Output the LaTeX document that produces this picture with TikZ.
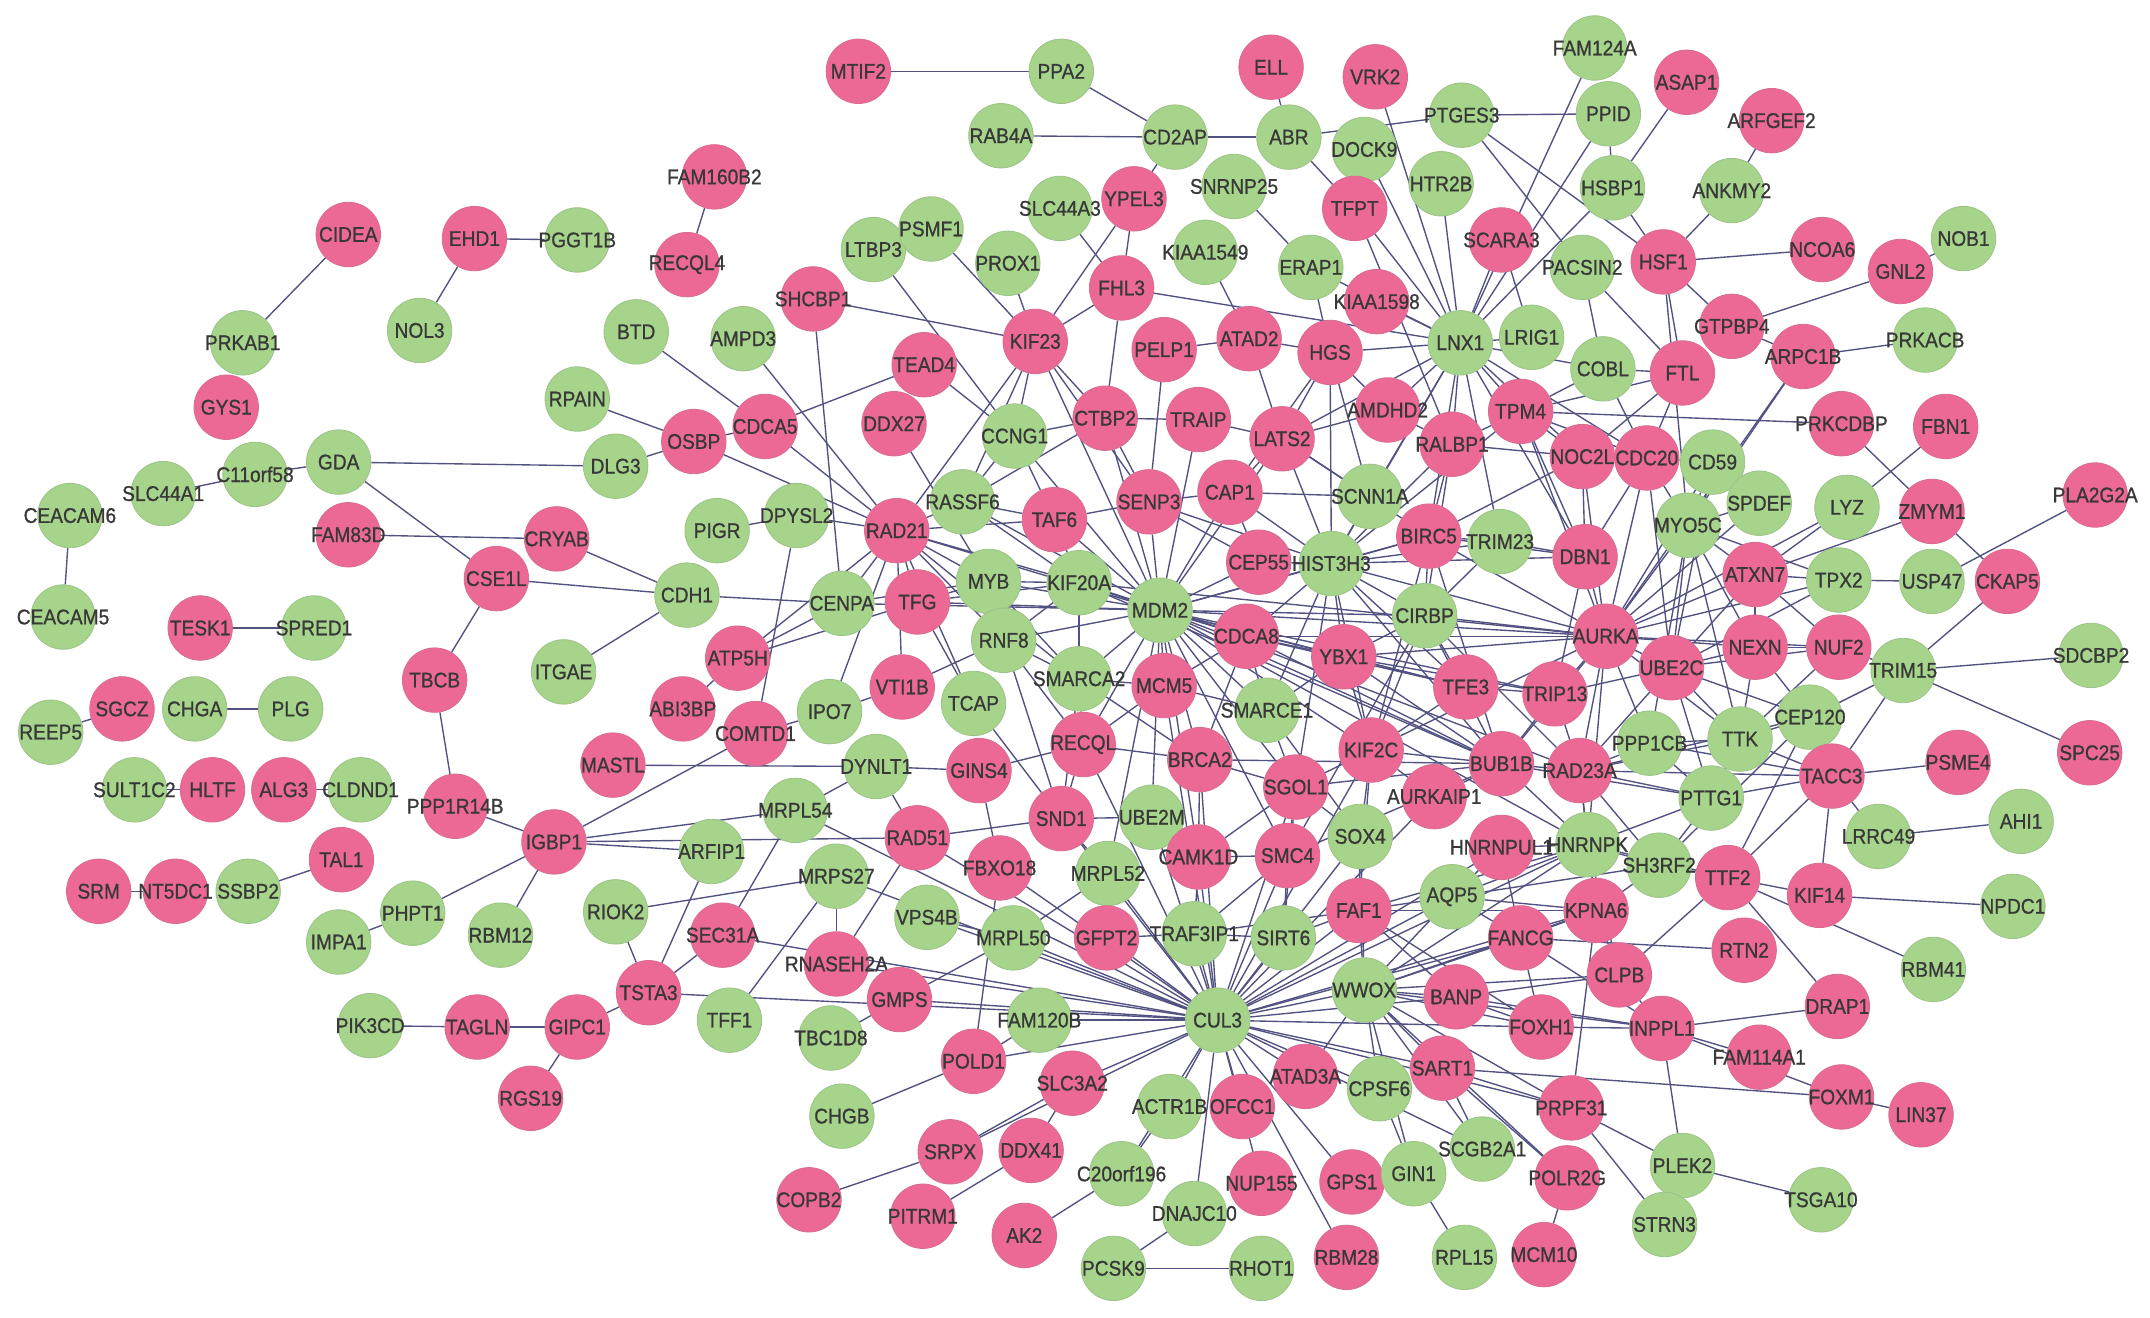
\documentclass[tikz,border=0pt]{standalone}
\usepackage{fontspec}
\setmainfont{Liberation Sans}[FakeStretch=0.9,FakeBold=0.9]
\usetikzlibrary{backgrounds}
\definecolor{pinkc}{RGB}{237,105,149}
\definecolor{greenc}{RGB}{166,212,139}
\definecolor{edgec}{RGB}{82,82,130}
\tikzset{
  gbase/.style={circle, minimum size=47pt, inner sep=0pt, font=\fontsize{15.5}{15.5}\selectfont, text={black!78}, line width=0.6pt},
  pn/.style={gbase, fill=pinkc, draw=pinkc!80!gray},
  gnn/.style={gbase, fill=greenc, draw=greenc!80!gray},
  conn/.style={draw=edgec, line width=1pt},
}
\newcommand\pnd[2]{\node[pn] (#1) at (#2) {\makebox[0pt]{#1}};}
\newcommand\gnd[2]{\node[gnn] (#1) at (#2) {\makebox[0pt]{#1}};}
\begin{document}
\begin{tikzpicture}[x=1pt,y=-1pt]
\useasboundingbox (0,0) rectangle (1568,961);
% ---- nodes ----
\pnd{CIDEA}{254,171}
\pnd{EHD1}{346,174}
\gnd{PGGT1B}{421,175}
\gnd{NOL3}{306,241}
\gnd{PRKAB1}{177,250}
\pnd{GYS1}{165,297}
\pnd{MTIF2}{626,52}
\gnd{PPA2}{774,52}
\gnd{RAB4A}{730,99}
\pnd{FAM160B2}{521,129}
\pnd{RECQL4}{501,193}
\gnd{SLC44A3}{773,152}
\gnd{LTBP3}{637,182}
\gnd{PSMF1}{679,167}
\gnd{PROX1}{735,192}
\pnd{SHCBP1}{593,218}
\gnd{BTD}{464,242}
\gnd{AMPD3}{542,247}
\pnd{KIF23}{755,249}
\pnd{TEAD4}{674,266}
\gnd{RPAIN}{421,291}
\pnd{CDCA5}{558,311}
\pnd{DDX27}{652,309}
\gnd{CCNG1}{740,318}
\pnd{OSBP}{506,322}
\pnd{ELL}{927,49}
\pnd{VRK2}{1003,56}
\gnd{FAM124A}{1163,35}
\gnd{CD2AP}{857,100}
\gnd{ABR}{940,100}
\gnd{PTGES3}{1066,84}
\gnd{PPID}{1173,83}
\gnd{DOCK9}{995,109}
\gnd{SNRNP25}{900,136}
\pnd{TFPT}{988,152}
\gnd{HTR2B}{1051,134}
\gnd{HSBP1}{1176,137}
\pnd{YPEL3}{827,145}
\pnd{SCARA3}{1095,175}
\gnd{KIAA1549}{879,184}
\gnd{ERAP1}{956,195}
\gnd{PACSIN2}{1154,195}
\pnd{FHL3}{818,210}
\pnd{KIAA1598}{1004,220}
\pnd{ATAD2}{911,247}
\pnd{HGS}{970,257}
\pnd{PELP1}{849,255}
\gnd{LNX1}{1065,250}
\gnd{LRIG1}{1117,246}
\gnd{COBL}{1169,269}
\pnd{CTBP2}{806,305}
\pnd{TRAIP}{874,306}
\pnd{AMDHD2}{1012,299}
\pnd{TPM4}{1109,300}
\pnd{LATS2}{935,320}
\pnd{RALBP1}{1059,324}
\pnd{ASAP1}{1230,60}
\pnd{ARFGEF2}{1292,88}
\gnd{ANKMY2}{1263,139}
\pnd{HSF1}{1213,191}
\pnd{NCOA6}{1329,182}
\pnd{GNL2}{1386,198}
\gnd{NOB1}{1432,174}
\pnd{GTPBP4}{1263,238}
\pnd{FTL}{1227,272}
\pnd{ARPC1B}{1315,260}
\gnd{PRKACB}{1404,248}
\pnd{PRKCDBP}{1343,309}
\pnd{FBN1}{1419,311}
\gnd{GDA}{247,337}
\gnd{C11orf58}{186,346}
\gnd{SLC44A1}{119,360}
\gnd{CEACAM6}{51,376}
\gnd{CEACAM5}{46,450}
\pnd{FAM83D}{254,390}
\pnd{CSE1L}{362,422}
\pnd{CRYAB}{406,393}
\pnd{TESK1}{146,458}
\gnd{SPRED1}{229,458}
\pnd{TBCB}{317,496}
\gnd{REEP5}{37,534}
\pnd{SGCZ}{89,517}
\gnd{CHGA}{142,517}
\gnd{PLG}{212,517}
\gnd{SULT1C2}{98,576}
\pnd{HLTF}{155,576}
\pnd{ALG3}{207,576}
\gnd{CLDND1}{263,576}
\pnd{PPP1R14B}{332,588}
\pnd{TAL1}{249,627}
\pnd{SRM}{72,650}
\pnd{NT5DC1}{128,650}
\gnd{SSBP2}{181,650}
\gnd{PHPT1}{301,666}
\gnd{IMPA1}{247,687}
\gnd{RBM12}{365,682}
\gnd{PIK3CD}{270,748}
\pnd{TAGLN}{348,749}
\pnd{RGS19}{387,801}
\gnd{DLG3}{449,340}
\gnd{PIGR}{523,387}
\gnd{DPYSL2}{581,376}
\pnd{RAD21}{654,387}
\gnd{RASSF6}{702,366}
\pnd{TAF6}{769,379}
\gnd{CDH1}{501,434}
\gnd{CENPA}{614,440}
\pnd{TFG}{669,439}
\gnd{MYB}{721,424}
\gnd{KIF20A}{787,425}
\gnd{RNF8}{732,467}
\pnd{ATP5H}{538,480}
\gnd{ITGAE}{411,490}
\pnd{VTI1B}{658,501}
\pnd{ABI3BP}{498,517}
\gnd{IPO7}{605,519}
\gnd{TCAP}{710,513}
\pnd{COMTD1}{551,535}
\pnd{MASTL}{447,558}
\gnd{DYNLT1}{639,559}
\pnd{GINS4}{714,562}
\pnd{SND1}{774,597}
\gnd{MRPL54}{580,591}
\pnd{IGBP1}{404,614}
\gnd{ARFIP1}{519,621}
\pnd{RAD51}{669,611}
\pnd{FBXO18}{729,633}
\gnd{MRPS27}{610,639}
\pnd{RECQL}{790,543}
\gnd{SMARCA2}{787,495}
\pnd{NOC2L}{1154,333}
\pnd{SENP3}{838,366}
\pnd{CAP1}{897,359}
\gnd{SCNN1A}{999,362}
\pnd{BIRC5}{1042,391}
\gnd{TRIM23}{1094,395}
\pnd{DBN1}{1156,406}
\pnd{CEP55}{918,410}
\gnd{HIST3H3}{971,411}
\gnd{MDM2}{846,445}
\gnd{CIRBP}{1039,449}
\pnd{AURKA}{1171,464}
\pnd{CDCA8}{909,464}
\pnd{YBX1}{980,479}
\pnd{MCM5}{849,500}
\pnd{TFE3}{1069,501}
\pnd{TRIP13}{1134,506}
\gnd{SMARCE1}{924,518}
\pnd{KIF2C}{1000,547}
\pnd{BRCA2}{875,554}
\pnd{BUB1B}{1095,557}
\pnd{RAD23A}{1152,562}
\pnd{SGOL1}{945,574}
\pnd{AURKAIP1}{1046,581}
\gnd{UBE2M}{840,596}
\gnd{SOX4}{992,610}
\pnd{HNRNPUL1}{1095,618}
\gnd{HNRNPK}{1158,616}
\pnd{CAMK1D}{874,625}
\pnd{SMC4}{939,624}
\gnd{MRPL52}{808,637}
\pnd{CDC20}{1201,334}
\gnd{CD59}{1249,337}
\gnd{SPDEF}{1283,367}
\gnd{MYO5C}{1231,383}
\gnd{LYZ}{1347,370}
\pnd{ZMYM1}{1409,373}
\pnd{PLA2G2A}{1528,361}
\pnd{ATXN7}{1280,419}
\gnd{TPX2}{1341,423}
\gnd{USP47}{1409,424}
\pnd{CKAP5}{1464,424}
\pnd{NEXN}{1280,472}
\pnd{NUF2}{1341,472}
\pnd{UBE2C}{1219,487}
\gnd{TRIM15}{1388,489}
\gnd{SDCBP2}{1525,478}
\gnd{CEP120}{1320,523}
\gnd{TTK}{1269,539}
\gnd{PPP1CB}{1203,542}
\pnd{SPC25}{1524,549}
\pnd{PSME4}{1428,556}
\pnd{TACC3}{1336,566}
\gnd{PTTG1}{1248,582}
\gnd{AHI1}{1474,599}
\gnd{LRRC49}{1370,610}
\gnd{SH3RF2}{1210,631}
\pnd{TTF2}{1260,640}
\pnd{KIF14}{1327,653}
\gnd{NPDC1}{1468,661}
\pnd{RTN2}{1272,693}
\gnd{RBM41}{1410,707}
\pnd{CLPB}{1181,711}
\pnd{DRAP1}{1340,734}
\pnd{INPPL1}{1212,750}
\pnd{FAM114A1}{1283,771}
\pnd{FOXM1}{1343,800}
\pnd{LIN37}{1401,813}
\gnd{PLEK2}{1227,850}
\gnd{TSGA10}{1328,875}
\gnd{STRN3}{1214,893}
\gnd{RIOK2}{449,665}
\pnd{SEC31A}{527,682}
\gnd{VPS4B}{676,669}
\gnd{MRPL50}{739,684}
\pnd{RNASEH2A}{610,703}
\pnd{TSTA3}{473,724}
\pnd{GMPS}{656,729}
\gnd{TFF1}{532,744}
\pnd{GIPC1}{421,749}
\gnd{TBC1D8}{606,757}
\gnd{FAM120B}{758,744}
\pnd{POLD1}{710,774}
\pnd{SLC3A2}{782,790}
\gnd{CHGB}{614,814}
\pnd{SRPX}{693,840}
\pnd{DDX41}{752,839}
\pnd{COPB2}{590,875}
\pnd{PITRM1}{673,887}
\pnd{AK2}{747,901}
\pnd{FAF1}{991,664}
\gnd{AQP5}{1059,654}
\pnd{KPNA6}{1164,664}
\pnd{GFPT2}{807,684}
\gnd{TRAF3IP1}{871,681}
\gnd{SIRT6}{936,684}
\pnd{FANCG}{1109,684}
\gnd{WWOX}{995,722}
\pnd{BANP}{1062,727}
\gnd{CUL3}{888,744}
\pnd{FOXH1}{1124,749}
\pnd{ATAD3A}{952,785}
\pnd{SART1}{1052,779}
\gnd{CPSF6}{1006,794}
\gnd{ACTR1B}{853,807}
\pnd{OFCC1}{906,807}
\pnd{PRPF31}{1146,808}
\gnd{SCGB2A1}{1081,838}
\gnd{C20orf196}{818,856}
\pnd{NUP155}{920,863}
\pnd{GPS1}{986,862}
\gnd{GIN1}{1031,856}
\pnd{POLR2G}{1143,859}
\gnd{DNAJC10}{871,885}
\pnd{RBM28}{982,917}
\gnd{RPL15}{1068,917}
\pnd{MCM10}{1126,915}
\gnd{PCSK9}{812,925}
\gnd{RHOT1}{920,925}
% ---- connectors ----
\begin{pgfonlayer}{background}
\fill[white] (0,0) rectangle (1568,961);
\foreach \a/\b in {CIDEA/PRKAB1, EHD1/PGGT1B, EHD1/NOL3, FAM160B2/RECQL4, MTIF2/PPA2, PPA2/CD2AP, RAB4A/CD2AP, CD2AP/ABR, CD2AP/YPEL3, ELL/ABR, ABR/PTGES3, ABR/TFPT, PTGES3/PPID, PPID/HSBP1, ASAP1/HSBP1, ARFGEF2/ANKMY2, ANKMY2/HSF1, HSBP1/HSF1, HSF1/NCOA6, HSF1/GTPBP4, GNL2/NOB1, GNL2/GTPBP4, GTPBP4/ARPC1B, ARPC1B/PRKACB, PRKCDBP/ZMYM1, TPM4/PRKCDBP, FBN1/LYZ, ZMYM1/CKAP5, ZMYM1/ATXN7, PLA2G2A/USP47, TPX2/USP47, CKAP5/TRIM15, NUF2/TRIM15, TRIM15/SDCBP2, TRIM15/SPC25, TRIM15/CEP120, TRIM15/TACC3, TACC3/PSME4, TACC3/LRRC49, LRRC49/AHI1, TACC3/KIF14, TACC3/TTF2, TTF2/KIF14, KIF14/NPDC1, TTF2/RBM41, TTF2/DRAP1, TTF2/CLPB, FANCG/RTN2, INPPL1/DRAP1, INPPL1/FAM114A1, INPPL1/FOXM1, SART1/FOXM1, FOXM1/LIN37, INPPL1/PLEK2, PLEK2/TSGA10, PRPF31/PLEK2, PRPF31/STRN3, FOXH1/INPPL1, CLPB/INPPL1, KPNA6/PRPF31, SART1/PRPF31, SART1/POLR2G, POLR2G/MCM10, SART1/SCGB2A1, CPSF6/GIN1, GIN1/RPL15, DNAJC10/PCSK9, PCSK9/RHOT1, ACTR1B/C20orf196, C20orf196/AK2, DDX41/SLC3A2, DDX41/PITRM1, SRPX/SLC3A2, SRPX/COPB2, POLD1/CHGB, POLD1/FBXO18, POLD1/FAM120B, GMPS/TBC1D8, GMPS/MRPL50, TSTA3/CUL3, TSTA3/SEC31A, TSTA3/RIOK2, TSTA3/GIPC1, TSTA3/ARFIP1, RIOK2/MRPS27, GIPC1/TAGLN, TAGLN/PIK3CD, GIPC1/RGS19, IGBP1/PHPT1, PHPT1/IMPA1, IGBP1/RBM12, PPP1R14B/IGBP1, TBCB/PPP1R14B, CSE1L/TBCB, GDA/CSE1L, GDA/C11orf58, C11orf58/SLC44A1, CEACAM6/CEACAM5, TESK1/SPRED1, SGCZ/REEP5, CHGA/PLG, SULT1C2/HLTF, ALG3/CLDND1, SRM/NT5DC1, SSBP2/TAL1, GDA/DLG3, DLG3/OSBP, FAM83D/CRYAB, CRYAB/CDH1, CSE1L/CDH1, CDH1/ITGAE, CDH1/CENPA, RPAIN/OSBP, OSBP/CDCA5, BTD/CDCA5, CDCA5/TEAD4, AMPD3/RAD21, SHCBP1/KIF23, SHCBP1/CENPA, LTBP3/CCNG1, TEAD4/CCNG1, PSMF1/KIF23, PROX1/KIF23, SLC44A3/FHL3, KIF23/YPEL3, KIF23/FHL3, YPEL3/FHL3, FHL3/CTBP2, SNRNP25/ERAP1, KIAA1549/ATAD2, ERAP1/HGS, ERAP1/LNX1, PELP1/ATAD2, ATAD2/HGS, HGS/LNX1, FHL3/LNX1, VRK2/LNX1, DOCK9/LNX1, HTR2B/LNX1, TFPT/LNX1, TFPT/RALBP1, KIAA1598/LNX1, SCARA3/LNX1, FAM124A/LNX1, PPID/LNX1, HSBP1/LNX1, PTGES3/HSF1, PTGES3/PACSIN2, PACSIN2/COBL, LRIG1/LNX1, LNX1/COBL, SCARA3/LRIG1, PACSIN2/FTL, HSF1/FTL, HSF1/MYO5C, ARPC1B/MYO5C, ARPC1B/AURKA, LYZ/ATXN7, LYZ/AURKA, TPX2/AURKA, NEXN/NUF2, CEP120/TTF2, TTK/CEP120, TTK/TACC3, PTTG1/TACC3, PPP1CB/TACC3, PTTG1/SH3RF2, DPYSL2/RAD21, DPYSL2/PIGR, DPYSL2/COMTD1, MASTL/DYNLT1, DYNLT1/GINS4, DYNLT1/MRPL54, IGBP1/MRPL54, IGBP1/RAD51, IGBP1/ARFIP1, IGBP1/COMTD1, ABI3BP/ATP5H, CENPA/ATP5H, ATP5H/TFG, COMTD1/IPO7, IPO7/VTI1B, TCAP/SND1, TCAP/TFG, VTI1B/RNF8, GINS4/RECQL, GINS4/FBXO18, RAD51/SND1, RAD51/DYNLT1, SND1/RNF8, MRPL50/VPS4B, MRPL50/MRPL52, FBXO18/CUL3, MRPL50/CUL3, RNASEH2A/CUL3, SEC31A/CUL3, SEC31A/MRPL54, TFF1/MRPS27, RNASEH2A/MRPS27, RNASEH2A/RAD51, GMPS/CUL3, FAM120B/CUL3}
  \draw[conn] (\a) -- (\b);
\foreach \a/\b in {RAD21/MYB, RAD21/KIF20A, RAD21/RNF8, RAD21/TFG, RAD21/MDM2, RAD21/SMARCA2, RAD21/RASSF6, RAD21/CENPA, RAD21/IPO7, RAD21/CDCA5, RAD21/OSBP, RAD21/KIF23, RAD21/TAF6, RAD21/TCAP, RAD21/VTI1B, RAD21/ATP5H, KIF23/CTBP2, KIF23/CCNG1, KIF23/RASSF6, KIF23/MDM2, KIF23/SENP3, CCNG1/TAF6, CCNG1/RASSF6, CCNG1/MDM2, CCNG1/CTBP2, TAF6/MDM2, RASSF6/TAF6, TAF6/KIF20A, RASSF6/KIF20A, RASSF6/MDM2, KIF20A/MDM2, KIF20A/MYB, KIF20A/RNF8, KIF20A/SMARCA2, KIF20A/TFG, KIF20A/AURKA, KIF20A/BUB1B, KIF20A/CDCA8, MYB/MDM2, MYB/RNF8, MYB/SMARCA2, MYB/TFG, MYB/CENPA, DDX27/MYB, MDM2/SENP3, MDM2/CAP1, MDM2/CEP55, MDM2/HIST3H3, MDM2/CDCA8, MDM2/YBX1, MDM2/MCM5, MDM2/SMARCA2, MDM2/RNF8, MDM2/SMARCE1, MDM2/BRCA2, MDM2/SGOL1, MDM2/KIF2C, MDM2/TFE3, MDM2/BUB1B, MDM2/AURKA, MDM2/CIRBP, MDM2/TRIP13, MDM2/UBE2M, MDM2/RECQL, MDM2/MRPL52, MDM2/CAMK1D, MDM2/SMC4, MDM2/TFG, MDM2/CENPA, MDM2/CTBP2, MDM2/LATS2, MDM2/TRAIP, MDM2/BIRC5, MDM2/RAD23A, MDM2/HNRNPK, HIST3H3/CEP55, HIST3H3/CAP1, HIST3H3/SENP3, HIST3H3/SCNN1A, HIST3H3/BIRC5, HIST3H3/CIRBP, HIST3H3/YBX1, HIST3H3/CDCA8, HIST3H3/AURKA, HIST3H3/TRIM23, HIST3H3/LATS2, HIST3H3/HGS, HIST3H3/LNX1, HIST3H3/DBN1, HIST3H3/KIF2C, HIST3H3/BUB1B, HIST3H3/SMARCE1, HIST3H3/TFE3, HIST3H3/SGOL1, HIST3H3/RALBP1, HIST3H3/TPM4, CIRBP/YBX1, CIRBP/AURKA, CIRBP/BIRC5, CIRBP/TRIM23, CIRBP/TFE3, CIRBP/BUB1B, CIRBP/RAD23A, CIRBP/KIF2C, CIRBP/SMC4, CIRBP/RALBP1, BUB1B/RAD23A, BUB1B/KIF2C, BUB1B/TRIP13, BUB1B/AURKAIP1, BUB1B/PTTG1, BUB1B/HNRNPK, BUB1B/SGOL1, BUB1B/BRCA2, BUB1B/SMC4, BUB1B/CDCA8, BUB1B/YBX1, BUB1B/AURKA, RAD23A/PTTG1, RAD23A/PPP1CB, RAD23A/HNRNPK, RAD23A/TTK, RAD23A/CEP120, RAD23A/TACC3, RAD23A/TRIP13, RAD23A/UBE2C, RAD23A/SH3RF2, RAD23A/KPNA6, RAD23A/AURKA, KIF2C/YBX1, KIF2C/SGOL1, KIF2C/AURKAIP1, KIF2C/TFE3, KIF2C/SOX4, KIF2C/FAF1, KIF2C/AURKA, SGOL1/SMC4, SGOL1/BRCA2, SGOL1/CAMK1D, SGOL1/SMARCE1, SGOL1/SOX4, CDCA8/YBX1, CDCA8/SMARCE1, CDCA8/TFE3, CDCA8/MCM5, CDCA8/BRCA2, CDCA8/AURKA, YBX1/SMARCE1, YBX1/TRIP13, YBX1/TFE3, YBX1/AURKA, TRIP13/AURKA, TRIP13/TFE3, TRIP13/UBE2C, UBE2C/AURKA, UBE2C/NEXN, UBE2C/NUF2, UBE2C/TTK, UBE2C/PTTG1, UBE2C/CEP120, UBE2C/ATXN7, UBE2C/TPX2}
  \draw[conn] (\a) -- (\b);
\foreach \a/\b in {CUL3/TRAF3IP1, CUL3/SIRT6, CUL3/FAF1, CUL3/AQP5, CUL3/WWOX, CUL3/BANP, CUL3/SART1, CUL3/PRPF31, CUL3/ATAD3A, CUL3/CPSF6, CUL3/OFCC1, CUL3/ACTR1B, CUL3/C20orf196, CUL3/DNAJC10, CUL3/NUP155, CUL3/GPS1, CUL3/RBM28, CUL3/SLC3A2, CUL3/POLD1, CUL3/GFPT2, CUL3/MRPL52, CUL3/UBE2M, CUL3/CAMK1D, CUL3/SMC4, CUL3/SGOL1, CUL3/BRCA2, CUL3/RECQL, CUL3/SND1, CUL3/RAD51, CUL3/VPS4B, CUL3/MRPS27, CUL3/MRPL54, CUL3/HNRNPK, CUL3/HNRNPUL1, CUL3/SOX4, CUL3/KPNA6, CUL3/FANCG, CUL3/FOXH1, CUL3/SCGB2A1, CUL3/MCM5, CUL3/KIF2C, CUL3/AURKAIP1, CUL3/SRPX, WWOX/BANP, WWOX/FOXH1, WWOX/PRPF31, WWOX/SART1, WWOX/CPSF6, WWOX/ATAD3A, WWOX/GIN1, WWOX/POLR2G, WWOX/FAF1, WWOX/AQP5, WWOX/SOX4, WWOX/KPNA6, WWOX/HNRNPK, WWOX/CLPB, WWOX/INPPL1, WWOX/FANCG, WWOX/SCGB2A1, FAF1/AQP5, FAF1/FOXH1, FAF1/BANP, FAF1/KPNA6, FAF1/HNRNPK, FAF1/SIRT6, FAF1/SOX4, FAF1/TRAF3IP1, AQP5/HNRNPK, AQP5/KPNA6, AQP5/FANCG, AQP5/SH3RF2, AQP5/HNRNPUL1, SIRT6/TRAF3IP1, SIRT6/SMC4, SIRT6/SGOL1, TRAF3IP1/GFPT2, TRAF3IP1/SMC4, TRAF3IP1/CAMK1D, CAMK1D/SMC4, CAMK1D/UBE2M, CAMK1D/BRCA2, SND1/RECQL, SND1/UBE2M, SND1/MRPL52, SND1/SMARCA2, RECQL/SMARCA2, RECQL/MCM5, RECQL/BRCA2, RECQL/RNF8, SMARCA2/MCM5, SMARCA2/RNF8, SMARCA2/BRCA2, SMARCE1/MCM5, SMARCE1/SOX4, HNRNPK/HNRNPUL1, HNRNPK/SH3RF2, HNRNPK/PTTG1, HNRNPK/KPNA6, HNRNPK/AURKA, HNRNPK/TTF2, HNRNPK/CLPB, SH3RF2/KPNA6, SH3RF2/TTF2, NOC2L/CDC20, NOC2L/AURKA, NOC2L/DBN1, NOC2L/TPM4, NOC2L/RALBP1, NOC2L/LNX1, NOC2L/BIRC5, CDC20/AURKA, CDC20/CD59, CDC20/MYO5C, CDC20/DBN1, CDC20/FTL, CDC20/UBE2C, CDC20/TPM4, CD59/AURKA, CD59/MYO5C, CD59/UBE2C, SPDEF/AURKA, SPDEF/MYO5C, MYO5C/AURKA, MYO5C/UBE2C, MYO5C/ATXN7, MYO5C/TTK, MYO5C/NEXN, MYO5C/PPP1CB, DBN1/AURKA, DBN1/BIRC5, DBN1/TRIM23, DBN1/TPM4, DBN1/TRIP13, TPM4/AURKA, TPM4/RALBP1, TPM4/LNX1, TPM4/COBL, TPM4/FTL, RALBP1/LNX1, RALBP1/BIRC5, RALBP1/AMDHD2, BIRC5/TRIM23, BIRC5/AURKA, BIRC5/LNX1, BIRC5/KIF2C, BIRC5/BUB1B, AMDHD2/HGS, AMDHD2/LATS2, AMDHD2/LNX1, SCNN1A/LATS2, SCNN1A/CAP1, SCNN1A/HGS, LATS2/CAP1, LATS2/TRAIP, ATAD2/LATS2, HGS/LATS2, LATS2/BIRC5, CAP1/SENP3, CAP1/CEP55, CAP1/HGS, SENP3/TAF6, SENP3/PELP1, SENP3/CTBP2, SENP3/CEP55, CTBP2/TRAIP, CTBP2/RASSF6, COBL/FTL, COBL/CDC20, FTL/NOC2L, ATXN7/AURKA, ATXN7/TPX2, ATXN7/NEXN, ATXN7/NUF2, NEXN/AURKA, NEXN/CEP120, NEXN/TTK, NUF2/AURKA, NUF2/TTK, TPX2/MYO5C, TTK/PTTG1, TTK/PPP1CB, TTK/AURKA, PPP1CB/PTTG1, PPP1CB/AURKA, CEP120/TACC3, CEP120/SH3RF2, KPNA6/CLPB, KPNA6/FANCG, FANCG/FOXH1, FANCG/INPPL1, FANCG/HNRNPUL1, BANP/FOXH1, BANP/INPPL1, BANP/CLPB, LNX1/LATS2, LNX1/CDC20, LNX1/DBN1, LNX1/TRIM23, LNX1/SCNN1A}
  \draw[conn] (\a) -- (\b);
\end{pgfonlayer}
\end{tikzpicture}
\end{document}
